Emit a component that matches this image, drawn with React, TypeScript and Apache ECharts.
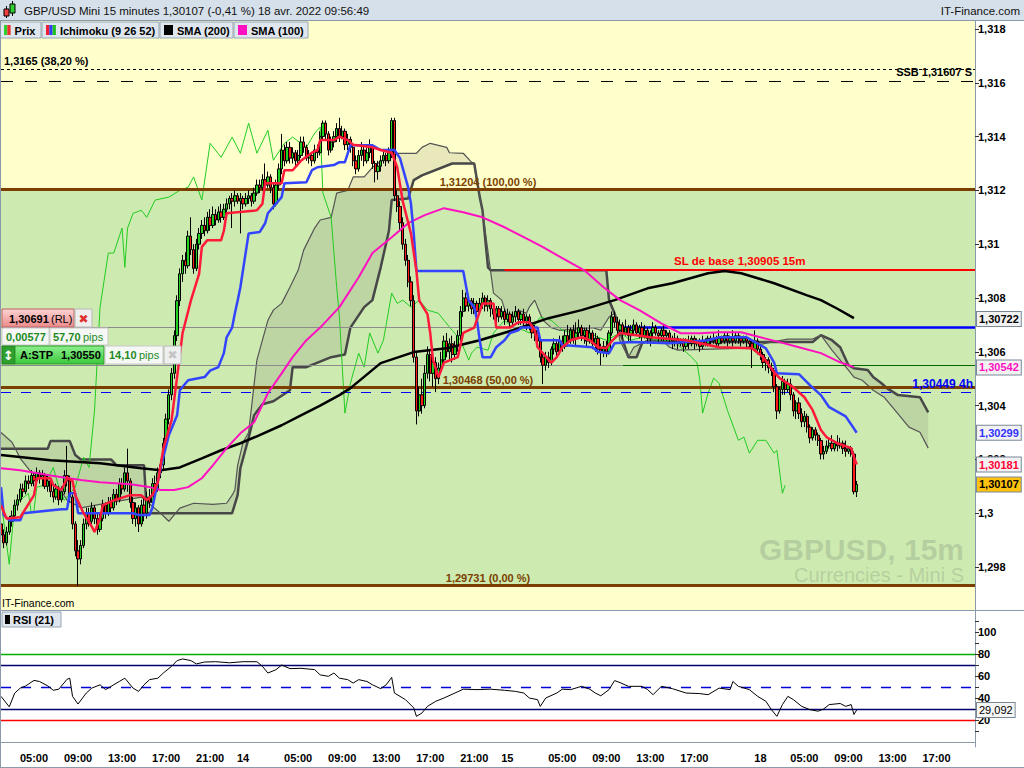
import { useEffect, useRef } from "react";
import * as echarts from "echarts";

const FONT = '"Liberation Sans", Arial, sans-serif';

// ---------- time axis: one slot per 15-minute bar from 13 Apr 02:00 (weekend removed) ----------
const SLOT_COUNT = 355;
const TIME_LABELS: [number, string][] = [
  [12, "05:00"], [28, "09:00"], [44, "13:00"], [60, "17:00"], [76, "21:00"], [88, "14"],
  [108, "05:00"], [124, "09:00"], [140, "13:00"], [156, "17:00"], [172, "21:00"], [184, "15"],
  [204, "05:00"], [220, "09:00"], [236, "13:00"], [252, "17:00"], [276, "18"],
  [292, "05:00"], [308, "09:00"], [324, "13:00"], [340, "17:00"],
];

// ---------- axes ----------
const PRICE_TICKS = [1.298, 1.3, 1.302, 1.304, 1.306, 1.308, 1.31, 1.312, 1.314, 1.316, 1.318];
const RSI_LABEL_VALUES = [20, 40, 60, 80, 100];
const RSI_TICK_VALUES = [10, 20, 30, 40, 50, 60, 70, 80, 90, 100, 110];

// ---------- price levels ----------
const FIB_0 = 1.29731;
const FIB_50 = 1.30468;
const FIB_100 = 1.31204;
const FIB_382 = 1.3165;
const SSB_LEVEL = 1.31607;
const SL_BASE = 1.30905;
const RL_LEVEL = 1.30691;
const STP_LEVEL = 1.3055;
const LEVEL_4H = 1.30449;
const ORDER_LEVEL = 1.30722;
const LAST_PRICE = 1.30107;
const SMA100_LAST = 1.30542;
const KIJUN_LAST = 1.30299;
const TENKAN_LAST = 1.30181;
const RSI_LAST = 29.092;
const SL_START_SLOT = 183;
const ORDER_SPLIT_SLOT = 226;

// ---------- candles: [open, close, low, high] in pips above 1.3000 ----------
const CANDLES: number[][] = [
  [-4,-8,-10,-2],[-8,-11,-13,-6],[-11,-7,-12,-5],[-7,-3,-8,-1],[-3,-1,-5,1],[-1,3,-2,5],[3,5,1,7],[5,9,4,11],[9,8,6,11],[8,12,7,14],
  [12,11,9,14],[11,14,10,16],[14,12,10,15],[12,15,11,17],[15,13,11,16],[13,14,10,16],[14,10,9,15],[10,12,8,14],[12,8,6,13],[8,6,4,10],
  [6,9,5,11],[9,5,3,10],[5,8,4,10],[8,14,7,16],[14,12,10,25],[12,6,4,14],[6,-4,-6,7],[-4,-14,-16,-3],[-14,-17,-27,-10],[-17,-12,-19,-10],
  [-12,-4,-13,-2],[-4,0,-6,2],[0,-3,-5,2],[-3,2,-4,4],[2,-2,-4,3],[-2,-6,-8,0],[-6,-2,-7,0],[-2,3,-3,5],[3,0,-2,4],[0,4,-1,6],
  [4,2,0,6],[2,7,1,9],[7,5,3,9],[5,11,4,13],[11,9,7,13],[9,15,8,17],[15,12,8,24],[12,4,2,13],[4,-2,-4,6],[-2,2,-5,4],
  [2,-4,-7,3],[-4,3,-5,5],[3,0,-3,6],[0,6,-2,8],[6,4,2,9],[4,11,3,13],[11,9,7,14],[9,15,8,17],[15,18,13,20],[18,26,16,28],
  [26,35,24,37],[35,44,33,46],[44,52,42,54],[52,66,50,68],[66,79,64,81],[79,89,77,91],[89,94,86,96],[94,92,89,97],[92,103,91,105],[103,98,96,110],
  [98,91,89,100],[91,100,90,102],[100,104,98,106],[104,107,102,109],[107,105,103,110],[105,110,104,112],[110,107,105,113],[107,111,106,114],[111,109,107,113],[109,112,108,114],
  [112,110,108,115],[110,113,109,115],[113,115,111,117],[115,117,113,118],[117,116,106,119],[116,118,114,120],[118,116,115,119],[116,117,104,119],[117,115,113,118],[115,117,114,119],
  [117,118,115,120],[118,116,114,119],[116,119,115,121],[119,122,118,124],[122,121,119,124],[121,124,120,126],[124,122,120,130],[122,125,121,127],[125,121,119,126],[121,115,113,123],
  [115,122,114,124],[122,128,120,130],[128,135,126,141],[135,131,129,137],[131,136,130,138],[136,132,130,138],[132,134,130,136],[134,131,129,135],[131,133,129,135],[133,138,132,140],
  [138,136,134,140],[136,132,131,137],[132,133,130,135],[133,131,129,134],[131,135,130,137],[135,134,132,137],[134,140,133,142],[140,145,139,146],[145,141,139,146],[141,135,133,142],
  [135,138,134,140],[138,140,136,142],[140,143,138,145],[143,140,138,147],[140,142,139,144],[142,137,135,143],[137,139,135,141],[139,136,134,140],[136,131,129,137],[131,128,126,133],
  [128,133,127,135],[133,135,131,138],[135,131,129,137],[131,134,130,136],[134,136,132,139],[136,130,128,137],[130,127,123,131],[127,129,124,131],[129,131,127,133],[131,133,130,135],
  [133,131,129,134],[131,134,130,136],[134,146,132,147],[146,118,116,147],[118,114,112,120],[114,108,105,116],[108,100,98,110],[100,94,92,102],[94,86,84,96],[86,79,77,88],
  [79,58,56,81],[58,38,33,60],[38,44,36,47],[44,40,37,50],[40,52,39,55],[52,59,50,62],[59,52,49,61],[52,56,47,62],[56,50,45,58],[50,54,48,56],
  [54,57,52,60],[57,64,55,66],[64,60,58,67],[60,63,57,65],[63,59,56,66],[59,62,57,64],[62,66,60,68],[66,75,64,77],[75,80,73,83],[80,77,75,82],
  [77,79,75,81],[79,76,74,80],[76,78,74,80],[78,75,73,79],[75,78,74,80],[78,80,76,82],[80,77,75,81],[77,79,75,81],[79,76,73,80],[76,74,72,78],
  [74,76,70,77],[76,73,71,77],[73,75,72,77],[75,72,70,76],[72,74,71,76],[74,71,69,75],[71,73,70,75],[73,75,71,77],[75,72,70,76],[72,74,70,75],
  [74,71,69,76],[71,73,68,74],[73,70,68,74],[70,67,65,71],[67,68,64,70],[68,64,62,69],[64,58,56,65],[58,55,48,60],[55,58,53,60],[58,56,54,60],
  [56,61,55,62],[61,63,59,65],[63,60,58,64],[60,64,59,66],[64,62,60,66],[62,66,61,68],[66,64,62,70],[64,68,63,69],[68,65,63,70],[65,67,62,71],
  [67,69,65,72],[69,66,64,70],[66,68,63,69],[68,64,62,69],[64,67,63,70],[67,63,61,68],[63,65,60,67],[65,61,59,66],[61,60,55,63],[60,62,58,64],
  [62,60,58,64],[60,67,59,68],[67,73,66,75],[73,71,69,75],[71,68,66,73],[68,70,66,72],[70,67,65,71],[67,69,66,72],[69,66,64,70],[66,68,64,70],
  [68,70,66,72],[70,67,66,71],[67,69,65,70],[69,66,64,71],[66,68,65,70],[68,65,63,69],[65,67,62,68],[67,69,65,71],[69,67,66,70],[67,66,63,68],
  [66,68,64,69],[68,66,64,70],[66,67,64,68],[67,65,63,68],[65,64,61,66],[64,65,62,67],[65,63,61,66],[63,64,62,65],[64,62,60,65],[62,64,61,65],
  [64,63,61,66],[63,65,62,66],[65,63,61,66],[63,64,62,65],[64,62,60,65],[62,64,61,66],[64,63,62,65],[63,65,62,66],[65,64,62,66],[64,65,63,67],
  [65,63,62,66],[63,65,62,68],[65,64,63,66],[64,66,63,67],[66,64,62,67],[64,65,63,66],[65,64,62,68],[64,66,63,67],[66,65,63,67],[65,64,62,66],
  [64,65,63,66],[65,64,61,66],[64,63,61,65],[63,61,54,64],[61,64,60,68],[64,61,59,65],[61,59,57,62],[59,56,54,60],[56,57,53,58],[57,54,52,58],
  [54,53,51,56],[53,47,45,54],[47,38,35,48],[38,46,37,47],[46,49,44,51],[49,46,44,50],[46,48,45,50],[48,44,42,50],[44,38,36,45],[38,41,35,42],
  [41,37,35,43],[37,34,32,39],[34,36,32,38],[36,32,30,37],[32,28,26,33],[28,31,27,32],[31,29,27,32],[29,27,25,30],[27,22,20,28],[22,23,20,25],
  [23,25,22,27],[25,26,24,28],[26,24,23,29],[24,26,23,27],[26,25,23,29],[25,26,24,28],[26,24,22,27],[24,23,21,27],[23,24,22,25],[24,22,21,25],
  [22,8,7,23],[8,10.7,6,12],
];

// ---------- indicators: [slot, pips above 1.3000] ----------
const TENKAN: number[][] = [
  [0,3],[2,-2],[7,-1.5],[12,6.7],[13,13],[18,13],[19,10.4],[22,8.6],[24,13],[26,12],[27,6.7],[30,0],[33,-5],[34,-7],[36,-2],[37,3],
  [41,4.8],[47,6.7],[51,6.7],[53,4.8],[55,6.7],[57,11.5],[59,24],[62,34.6],[64,50.6],[66,67],[69,79],[72,89],[73,99],[75,101.5],
  [80,101.5],[81,105],[82,111.5],[93,112.6],[95,115],[96,122.7],[102,122.7],[103,127.5],[106,127.5],[109,131],[113,134],[115,135],
  [116,138.7],[121,138.7],[123,140],[126,138.7],[128,137],[135,136],[138,135],[142,134],[144,128.6],[146,116],[149,104],[151,90],
  [152,79],[155,74],[156,67],[157,57],[159,50.6],[161,56],[166,58],[168,67],[172,69],[175,78],[179,78],[180,69],[185,69],[188,71],
  [192,71],[194,68],[195,61.7],[200,56],[202,58],[204,61.7],[207,64.3],[211,65.4],[214,64.3],[217,61.7],[220,61.3],[222,64],
  [225,67],[236,65.4],[249,64.3],[261,61.7],[273,61.3],[277,58],[281,52.4],[283,50.2],[288,46.8],[292,43.1],[295,38.3],[298,30.9],
  [300,28.3],[304,26],[309,24.2],[310,20.8],[311,18.1],
];
const KIJUN: number[][] = [
  [0,9.7],[1,-0.7],[3,-2.6],[7,-2.6],[8,0],[22,1.5],[24,1.5],[25,7.4],[27,7.4],[28,0],[48,0],[50,-0.7],[54,-0.7],[55,1.9],[58,16.7],
  [61,29],[64,36.4],[65,45.7],[68,49.4],[74,50.6],[76,53],[79,54.3],[81,59.5],[82,65.4],[84,69],[85,74.3],[86,79],[87,84],[90,104],
  [94,104.5],[96,107.8],[97,111.5],[102,117.5],[103,122.7],[111,123],[113,127.5],[115,128.6],[121,129.4],[123,130.5],[125,130.5],
  [127,136.8],[135,136.8],[138,135],[143,135],[145,132],[148,121],[149,115],[150,104],[151,90],[168,90],[170,79],[172,76.6],[173,71.7],
  [174,64.3],[175,58],[178,58],[180,61.7],[183,64.3],[185,67],[188,68],[189,69],[195,69],[196,64.3],[203,64.3],[204,62.5],[215,61.7],
  [217,60],[221,59.5],[223,63.2],[229,63.6],[243,63.2],[257,64.3],[261,65.4],[271,65.4],[278,61.3],[281,56],[282,52],[290,51.7],
  [294,47.6],[298,43.9],[301,39.4],[307,36],[309,33],[311,29.9],
];
const CHIKOU: number[][] = [
  [0,4.8],[3,-19],[5,3.7],[7,4.8],[10,7.4],[11,0],[12,1.1],[13,9.7],[16,10.4],[18,14.9],[19,17],[21,9.7],[23,4.8],[27,9.7],[29,17],
  [30,20.8],[32,17],[34,38.3],[36,76.6],[39,96.7],[41,96.7],[44,106],[45,91.4],[46,106],[48,111.5],[51,112.6],[53,110],[56,116.4],
  [61,117.5],[65,120],[68,121.2],[70,125],[73,116.4],[76,137.5],[80,132.3],[84,139.8],[87,133.8],[90,145],[93,133.8],[97,142.4],
  [99,131.2],[103,137.5],[106,139.8],[111,136],[114,141.3],[116,143.5],[117,119],[120,110],[122,84],[123,72.9],[125,37.2],[127,48.3],
  [130,59.5],[132,54.3],[134,67],[137,59.5],[139,64.3],[142,81.8],[144,78],[146,79.2],[149,76.6],[152,79.2],[155,75.5],[159,74.3],
  [161,71.7],[164,68],[167,64.3],[170,56.9],[171,59.5],[173,61.7],[177,60.6],[179,67],[183,71.7],[186,69],[190,68],[192,67],[196,72.9],
  [200,71.7],[204,68],[208,67],[212,68],[217,65.4],[220,64.3],[225,67],[229,64.3],[233,65.4],[239,64.3],[244,64.3],[247,61.7],[251,58],
  [253,55.8],[254,49.4],[255,37.2],[257,44.6],[259,50.2],[261,48.3],[264,38.3],[268,27.1],[270,28.3],[272,22.3],[275,27.1],[278,27.1],
  [281,22.3],[282,23.4],[284,7.4],[285,10.4],
];
const SENKOU_A: number[][] = [
  [0,30],[4,26.4],[7,20.4],[11,15.2],[15,13.4],[17,11.5],[21,9.7],[24,4.8],[29,2],[40,4],[51,6],[58,0],[61,-3],[65,1.9],[70,3.7],
  [77,3.3],[82,3.7],[84,6.7],[85,8.6],[86,17.8],[88,26.4],[90,30],[93,56.9],[97,71.7],[99,75.5],[102,78],[105,84],[108,90.3],
  [110,97.8],[114,106],[116,109],[120,110],[122,119],[126,120],[128,125],[132,125],[135,128.6],[142,133.8],[151,133.8],[153,136],
  [156,137.5],[162,136],[163,134],[168,133.8],[171,130.5],[172,130],[173,122.7],[175,112.6],[179,81.8],[182,79.2],[184,72.9],
  [186,72.9],[188,75.5],[191,74.3],[192,76.6],[194,79.2],[195,76.6],[197,71.7],[200,69],[203,68],[215,69],[218,68],[221,72.9],
  [223,74.3],[225,64],[228,58],[230,61.7],[235,64.3],[241,63.6],[243,61.7],[246,60.6],[268,61.3],[271,61.7],[280,63.6],[286,64.7],
  [295,64.7],[298,66.2],[302,60.6],[308,53.2],[310,50.6],[313,49.4],[317,45.7],[321,43.1],[324,39.4],[327,35.7],[330,32],[334,30.1],
  [337,24.2],
];
const SENKOU_B: number[][] = [
  [0,24],[17,24],[18,26.8],[25,26.8],[27,21.6],[29,20],[40,20],[42,17.8],[52,17.8],[53,0],[84,0],[86,6.7],[87,16.7],[90,28],
  [92,36.4],[95,40.5],[99,41.6],[105,45.7],[106,54.3],[111,54.3],[120,58],[125,59],[127,69],[132,76.6],[135,79.2],[138,91.4],
  [141,105],[142,116.4],[148,117],[150,123.8],[153,125.6],[164,130],[172,130],[174,117.5],[175,112.6],[177,91.4],[178,90.3],
  [220,90.3],[221,79.2],[223,74.3],[226,64.3],[228,58],[231,58],[233,63.2],[236,64.3],[249,63.6],[295,63.6],[298,66.2],[302,64.3],
  [305,61.7],[308,55],[310,53.9],[315,53.2],[317,50.6],[320,48.3],[322,46.5],[326,43.9],[334,43.1],[337,37.5],
];
const SMA200: number[][] = [
  [0,21.6],[18,19.7],[36,18.6],[51,16.7],[58,16],[65,17],[73,20.4],[80,23.4],[87,26],[94,29],[102,32.7],[109,36.4],[116,40],
  [123,43.9],[127,46.5],[138,55.8],[150,59.9],[162,61.3],[174,64.3],[186,68],[199,72.5],[211,75.5],[223,79.2],[235,83.6],[244,85.5],
  [257,89.2],[263,90],[269,89.2],[281,85.5],[293,81],[298,79.2],[304,76],[310,72.5],
];
const SMA100: number[][] = [
  [0,16.7],[7,16],[18,14],[29,12.3],[36,11.5],[47,10.8],[54,9.7],[58,8.6],[63,8.6],[68,9.7],[73,13],[77,17.8],[82,24.2],[87,29.7],
  [92,33.8],[97,44.6],[102,52],[106,58],[111,64.3],[116,69],[123,76.6],[130,87.7],[135,96.7],[142,102.6],[148,107.8],[154,110.8],
  [161,113.4],[168,111.9],[175,110],[183,106.3],[190,102.6],[197,98.9],[204,94.8],[212,90.3],[219,84],[225,79.2],[232,75.5],
  [240,70.6],[247,66.9],[254,66.9],[261,67.3],[269,67.3],[276,65.4],[283,63.6],[290,61.7],[298,59.5],[305,56.1],[310,54.3],
];
// RSI(21): [slot, value]
const RSI: number[][] = [
  [0,41.5],[3,32],[5,44.5],[7,49],[9,51],[12,56],[14,55],[17,51],[19,47],[21,48],[24,57],[25,58],[26,41.5],[28,34.5],[31,44.5],
  [33,49],[36,52],[38,47.6],[40,50.6],[43,55],[45,58],[48,49],[50,46],[52,52],[54,56.7],[57,58],[59,62.7],[62,68.8],[64,74],[66,75.5],
  [69,74],[71,71],[74,72.7],[78,73],[83,72],[88,73],[93,73],[95,68.8],[97,62.7],[100,65.8],[102,70],[105,66.7],[109,67],[114,65.8],
  [116,61],[119,59.7],[121,62.7],[123,58],[126,56.7],[128,53.6],[130,56.7],[133,55],[135,52],[138,48.5],[140,52],[142,58.8],
  [143,44.5],[147,38.5],[150,31],[151,23.3],[153,26.4],[155,32.4],[158,37],[161,40],[165,44.5],[168,48],[173,47.6],[178,48],[183,47],
  [187,46],[190,44.5],[192,40],[195,38.5],[196,32.4],[198,40],[202,44.5],[204,48],[207,47.6],[211,50.6],[214,48],[216,44.5],[218,42],
  [221,47.6],[223,55.8],[225,54],[228,50.6],[233,50.6],[235,47.6],[237,43],[240,50.6],[244,48.5],[249,44.5],[254,44],[257,43],
  [261,49],[265,47.6],[266,55],[268,50.6],[272,47.6],[275,41.5],[278,37],[280,29.4],[282,23.3],[284,34],[286,41.5],[288,38.5],
  [291,32.4],[294,29.4],[297,28],[299,30],[301,34],[305,35],[307,32.4],[309,34],[310,25],[311,29.1],
];

// ---------- helpers ----------
const toPrice = (p: number) => +(1.3 + p / 10000).toFixed(6);
const fmt5 = (v: number) => v.toFixed(5).replace(".", ",");
const fmtAxis = (v: number) => String(Number(v.toFixed(3))).replace(".", ",");
const labelMap = new Map<number, string>(TIME_LABELS);
const categories = Array.from({ length: SLOT_COUNT }, (_, i) => labelMap.get(i) ?? "");
const toXY = (pts: number[][]) => pts.map(([s, p]) => [s, toPrice(p)]);

const boldLabel = (color: string, size = 11) => ({
  color, fontWeight: "bold" as const, fontSize: size, fontFamily: FONT,
});

function buildOption() {
  const lineSeries = (name: string, pts: number[][], color: string, width: number, z: number) => ({
    type: "line", name, xAxisIndex: 0, yAxisIndex: 0, data: toXY(pts), showSymbol: false, symbol: "none",
    lineStyle: { color, width }, z, silent: true,
  });

  const valueBox = (value: number, color: string, bg: string) => ({
    yAxis: value,
    lineStyle: { color: "rgba(0,0,0,0)", width: 0 },
    label: {
      show: true, position: "end", distance: 2, formatter: fmt5(value), ...boldLabel(color),
      backgroundColor: bg, borderColor: "#7a8896", borderWidth: 1, padding: [2, 2, 1, 2],
    },
  });

  const brown = "#7b3f00";
  const fibLine = (value: number, text: string) => ({
    yAxis: value,
    lineStyle: { color: brown, width: 3, type: "solid" },
    label: { show: true, position: "insideMiddleTop", distance: 2, formatter: text, ...boldLabel(brown) },
  });

  const btn = (x: number, w: number, icons: string[], text: string) => {
    const children: any[] = [
      { type: "rect", shape: { x, y: 22, width: w, height: 16 }, style: { fill: "#dfe6ee", stroke: "#96a6b6", lineWidth: 1 } },
    ];
    const iw = icons.length === 1 ? 9 : 3.3;
    icons.forEach((c, k) => {
      children.push({ type: "rect", shape: { x: x + 4 + k * iw, y: 25, width: iw, height: 10 }, style: { fill: c } });
    });
    children.push({
      type: "text", x: x + 5 + icons.length * iw + 3, y: 30.5,
      style: { text, fill: "#000", fontWeight: "bold", fontSize: 11, fontFamily: FONT, verticalAlign: "middle" },
    });
    return { type: "group", children, z: 100 };
  };

  // simple widget pieces (flat, no rich text)
  const wBox = (x: number, y: number, w: number, h: number, fill: any, stroke: string) => ({
    type: "rect", z: 100, shape: { x, y, width: w, height: h }, style: { fill, stroke, lineWidth: 1 },
  });
  const wText = (x: number, y: number, text: string, fill: string, bold: boolean, align = "left", family = FONT, size = 11) => ({
    type: "text", z: 101, x, y,
    style: { text, fill, fontSize: size, fontWeight: bold ? "bold" : "normal", fontFamily: family, align, verticalAlign: "middle" },
  });
  const grad = (a: string, b: string) => ({
    type: "linear", x: 0, y: 0, x2: 0, y2: 1, colorStops: [{ offset: 0, color: a }, { offset: 1, color: b }],
  });
  const green = "#1f8a1f";

  const graphics: any[] = [
    // header bar
    { type: "rect", shape: { x: 0, y: 0, width: 1024, height: 21 }, style: { fill: "#d6e0ea" }, z: 100 },
    { type: "line", shape: { x1: 0, y1: 20.5, x2: 1024, y2: 20.5 }, style: { stroke: "#8a9aaa", lineWidth: 1 }, z: 101 },
    { type: "line", shape: { x1: 6.5, y1: 6, x2: 6.5, y2: 18 }, style: { stroke: "#000", lineWidth: 1 }, z: 101 },
    { type: "rect", shape: { x: 4, y: 9, width: 5, height: 7 }, style: { fill: "#f04040", stroke: "#000", lineWidth: 1 }, z: 102 },
    { type: "line", shape: { x1: 12.5, y1: 1, x2: 12.5, y2: 16 }, style: { stroke: "#000", lineWidth: 1 }, z: 101 },
    { type: "rect", shape: { x: 10, y: 4, width: 5, height: 9 }, style: { fill: "#30d030", stroke: "#000", lineWidth: 1 }, z: 102 },
    {
      type: "text", x: 24, y: 11, z: 101,
      style: { text: "GBP/USD Mini 15 minutes 1,30107 (-0,41 %) 18 avr. 2022 09:56:49", fill: "#111", fontSize: 11.5, fontFamily: FONT, verticalAlign: "middle" },
    },
    {
      type: "text", x: 1020, y: 11, z: 101,
      style: { text: "IT-Finance.com", fill: "#111", fontSize: 11.5, fontFamily: FONT, align: "right", verticalAlign: "middle" },
    },
    // legend buttons
    btn(0, 41, ["#30d030", "#f03030"], "Prix"),
    btn(42, 117, ["#f02030", "#3040ff", "#20c020"], "Ichimoku (9 26 52)"),
    btn(160, 73, ["#000000"], "SMA (200)"),
    btn(234, 74, ["#ff10c0"], "SMA (100)"),
    // frame lines
    { type: "line", shape: { x1: 0.5, y1: 21, x2: 0.5, y2: 767 }, style: { stroke: "#8a9aaa", lineWidth: 1 }, z: 100 },
    { type: "line", shape: { x1: 0, y1: 610.5, x2: 1024, y2: 610.5 }, style: { stroke: "#8a9aaa", lineWidth: 1 }, z: 100 },
    { type: "line", shape: { x1: 0, y1: 767.5, x2: 1024, y2: 767.5 }, style: { stroke: "#8a9aaa", lineWidth: 1 }, z: 100 },
    // watermark
    {
      type: "text", x: 964, y: 549, z: 2,
      style: { text: "GBPUSD, 15m", fill: "rgba(110,125,110,0.25)", fontSize: 30, fontWeight: "bold", fontFamily: FONT, align: "right", verticalAlign: "middle" },
    },
    {
      type: "text", x: 964, y: 575, z: 2,
      style: { text: "Currencies - Mini S", fill: "rgba(110,125,110,0.25)", fontSize: 20, fontFamily: FONT, align: "right", verticalAlign: "middle" },
    },
    // source text
    {
      type: "text", x: 2, y: 603, z: 100,
      style: { text: "IT-Finance.com", fill: "#000", fontSize: 10.5, fontFamily: FONT, verticalAlign: "middle" },
    },
    // RSI legend
    wBox(2, 612, 59, 15, "#dfe6ee", "#96a6b6"),
    { type: "rect", z: 101, shape: { x: 5, y: 615, width: 5, height: 9 }, style: { fill: "#000" } },
    wText(13, 619.5, "RSI (21)", "#000", true),
    // order widgets: row 1
    wBox(2, 309, 72, 18, grad("#fcd4d4", "#ec8a8a"), "#c06060"),
    wText(9, 318.5, "1,30691", "#000", true),
    wText(51, 318.5, "(RL)", "#000", false),
    wBox(75, 309, 17, 18, "#efefef", "#b8b8b8"),
    wText(83.5, 318.5, "✖", "#e03030", false, "center", "DejaVu Sans", 12),
    // row 2
    wBox(2, 328, 47, 17, "#f6f8f6", "#c8c8c8"),
    wText(6, 336.5, "0,00577", green, true),
    wBox(50, 328, 58, 17, "#f6f8f6", "#c8c8c8"),
    wText(53, 336.5, "57,70", green, true),
    wText(83, 336.5, "pips", green, false),
    // row 3
    wBox(2, 346, 13, 18, "#2f9f2f", "#1a7a1a"),
    wText(8.5, 355, "↕", "#ffffff", true, "center", "DejaVu Sans", 13),
    wBox(15, 346, 89, 18, grad("#8cef8c", "#3cc83c"), "#2a9a2a"),
    wText(20, 355, "A:STP", "#000", true),
    wText(61, 355, "1,30550", "#000", true),
    wBox(105, 346, 58, 18, "#f6f8f6", "#c8c8c8"),
    wText(109, 355, "14,10", green, true),
    wText(139, 355, "pips", green, false),
    wBox(164, 346, 17, 18, "#efefef", "#b8b8b8"),
    wText(172.5, 355, "✖", "#c4c4c4", false, "center", "DejaVu Sans", 12),
  ];

  return {
    animation: false,
    backgroundColor: "#ffffff",
    textStyle: { fontFamily: FONT },
    grid: [
      { left: 1, top: 21, width: 974, height: 589, show: true, backgroundColor: "#ffffcc", borderWidth: 0 },
      { left: 1, top: 611, width: 974, height: 136, show: true, backgroundColor: "#ffffff", borderWidth: 0 },
    ],
    xAxis: [
      {
        type: "category", gridIndex: 0, data: categories, boundaryGap: false,
        axisLine: { show: false }, axisTick: { show: false }, axisLabel: { show: false }, splitLine: { show: false },
      },
      {
        type: "category", gridIndex: 1, data: categories, boundaryGap: false,
        axisLine: { show: true, lineStyle: { color: "#8a9aaa" } }, axisTick: { show: false },
        axisLabel: { interval: (i: number) => labelMap.has(i), margin: 5, ...boldLabel("#000") },
        splitLine: { show: false },
      },
    ],
    yAxis: [
      {
        type: "value", gridIndex: 0, position: "right", min: 1.2964015, max: 1.3182974,
        splitLine: { show: false },
        axisLine: { show: true, onZero: false, lineStyle: { color: "#8a9aaa" } },
        axisTick: { show: true, length: 4, customValues: PRICE_TICKS, lineStyle: { color: "#333" } },
        axisLabel: { customValues: PRICE_TICKS, formatter: fmtAxis, margin: 3, ...boldLabel("#000") },
      },
      {
        type: "value", gridIndex: 1, position: "right", min: -4.55, max: 119.09,
        splitLine: { show: false },
        axisLine: { show: true, onZero: false, lineStyle: { color: "#8a9aaa" } },
        axisTick: { show: true, length: 4, customValues: RSI_TICK_VALUES, lineStyle: { color: "#333" } },
        axisLabel: { customValues: RSI_LABEL_VALUES, margin: 3, ...boldLabel("#000") },
      },
    ],
    graphic: graphics,
    series: [
      {
        type: "line", name: "zones", xAxisIndex: 0, yAxisIndex: 0, data: [], z: 1, silent: true,
        markArea: { silent: true, precision: 5, itemStyle: { color: "#cdeab0" }, data: [[{ yAxis: FIB_0 }, { yAxis: FIB_100 }]] },
      },
      {
        type: "custom", name: "cloud", xAxisIndex: 0, yAxisIndex: 0, z: 3, silent: true, data: [[0, 1.3]],
        renderItem: (_params: any, api: any) => {
          const a = SENKOU_A.map(([s, p]) => api.coord([s, toPrice(p)]));
          const b = SENKOU_B.slice().reverse().map(([s, p]) => api.coord([s, toPrice(p)]));
          return { type: "polygon", shape: { points: a.concat(b) }, style: { fill: "rgba(80,80,70,0.13)" } };
        },
      },
      lineSeries("Senkou B", SENKOU_B, "#474747", 2.5, 4),
      lineSeries("Senkou A", SENKOU_A, "#555555", 1.2, 4),
      lineSeries("Chikou", CHIKOU, "#22cc22", 1, 4),
      {
        type: "candlestick", name: "Prix", xAxisIndex: 0, yAxisIndex: 0, z: 5, silent: true,
        data: CANDLES.map((c) => c.map(toPrice)), barWidth: 2.8,
        itemStyle: { color: "#22d022", color0: "#ff1a1a", borderColor: "#000", borderColor0: "#000", borderWidth: 1 },
      },
      lineSeries("SMA 200", SMA200, "#000000", 2.5, 6),
      lineSeries("SMA 100", SMA100, "#ff10c0", 2, 6),
      lineSeries("Kijun", KIJUN, "#3344ff", 2.5, 6),
      lineSeries("Tenkan", TENKAN, "#ff1a3c", 2.5, 6),
      {
        type: "line", name: "levels", xAxisIndex: 0, yAxisIndex: 0, data: [], z: 7, silent: true,
        markLine: {
          silent: true, symbol: ["none", "none"], animation: false, precision: 5,
          data: [
            {
              yAxis: FIB_382, lineStyle: { color: "#000", width: 1, type: [3, 3] },
              label: { show: true, position: "insideStartTop", distance: 3, formatter: `${String(FIB_382).replace(".", ",")} (38,20 %)`, ...boldLabel("#000") },
            },
            {
              yAxis: SSB_LEVEL, lineStyle: { color: "#000", width: 1, type: [12, 12] },
              label: { show: true, position: "insideEndTop", distance: 3, formatter: `SSB ${fmt5(SSB_LEVEL)} S`, ...boldLabel("#000") },
            },
            fibLine(FIB_100, `${fmt5(FIB_100)} (100,00 %)`),
            fibLine(FIB_50, `${fmt5(FIB_50)} (50,00 %)`),
            fibLine(FIB_0, `${fmt5(FIB_0)} (0,00 %)`),
            [
              {
                coord: [SL_START_SLOT, SL_BASE], lineStyle: { color: "#ff0000", width: 2, type: "solid" },
                label: { show: true, position: "insideMiddleTop", distance: 3, formatter: `SL de base ${fmt5(SL_BASE)} 15m`, ...boldLabel("#ff0000", 11.5) },
              },
              { coord: [SLOT_COUNT - 1, SL_BASE] },
            ],
            [
              { coord: [0, RL_LEVEL], lineStyle: { color: "#8c8c8c", width: 1, type: "solid" }, label: { show: false } },
              { coord: [ORDER_SPLIT_SLOT, RL_LEVEL] },
            ],
            [
              { coord: [ORDER_SPLIT_SLOT, RL_LEVEL], lineStyle: { color: "#0000ff", width: 2.5, type: "solid" }, label: { show: false } },
              { coord: [SLOT_COUNT - 1, RL_LEVEL] },
            ],
            [
              { coord: [0, STP_LEVEL], lineStyle: { color: "#8c8c8c", width: 1, type: "solid" }, label: { show: false } },
              { coord: [ORDER_SPLIT_SLOT, STP_LEVEL] },
            ],
            [
              { coord: [ORDER_SPLIT_SLOT, STP_LEVEL], lineStyle: { color: "#006600", width: 1, type: "solid" }, label: { show: false } },
              { coord: [SLOT_COUNT - 1, STP_LEVEL] },
            ],
            {
              yAxis: LEVEL_4H, lineStyle: { color: "#0000ff", width: 1.2, type: [10, 10] },
              label: { show: true, position: "insideEndTop", distance: 2, formatter: `${fmt5(LEVEL_4H)} 4h`, ...boldLabel("#0000ff", 12) },
            },
          ],
        },
      },
      {
        type: "line", name: "last values", xAxisIndex: 0, yAxisIndex: 0, data: [], z: 8, silent: true,
        markLine: {
          silent: true, symbol: ["none", "none"], animation: false, precision: 5,
          data: [
            valueBox(ORDER_LEVEL, "#000", "#f2f2f2"),
            valueBox(SMA100_LAST, "#ff10c0", "#f2f2f2"),
            valueBox(KIJUN_LAST, "#3333ff", "#f2f2f2"),
            valueBox(TENKAN_LAST, "#ff0033", "#f2f2f2"),
            valueBox(LAST_PRICE, "#000", "#ffc20e"),
          ],
        },
      },
      {
        type: "line", name: "RSI (21)", xAxisIndex: 1, yAxisIndex: 1, data: RSI, showSymbol: false, symbol: "none",
        lineStyle: { color: "#000", width: 1 }, z: 5, silent: true,
        markLine: {
          silent: true, symbol: ["none", "none"], animation: false, precision: 3, label: { show: false },
          data: [
            { yAxis: 80, lineStyle: { color: "#00b000", width: 1.3, type: "solid" } },
            { yAxis: 70, lineStyle: { color: "#000070", width: 1.3, type: "solid" } },
            { yAxis: 50, lineStyle: { color: "#0000dd", width: 1.3, type: [10, 10] } },
            { yAxis: 30, lineStyle: { color: "#000070", width: 1.3, type: "solid" } },
            { yAxis: 20, lineStyle: { color: "#ff0000", width: 1.3, type: "solid" } },
            {
              yAxis: RSI_LAST, lineStyle: { color: "rgba(0,0,0,0)", width: 0 },
              label: {
                show: true, position: "end", distance: 2, formatter: RSI_LAST.toFixed(3).replace(".", ","),
                color: "#000", fontSize: 11, fontFamily: FONT, backgroundColor: "#f6f6f6",
                borderColor: "#7a8896", borderWidth: 1, padding: [2, 2, 1, 2],
              },
            },
          ],
        },
      },
    ],
  };
}

export default function App() {
  const ref = useRef<HTMLDivElement>(null);
  useEffect(() => {
    document.body.style.margin = "0";
    if (!ref.current) return;
    const chart = echarts.init(ref.current, null, { renderer: "svg" });
    chart.setOption(buildOption() as any);
    return () => chart.dispose();
  }, []);
  return (
    <div
      ref={ref}
      style={{ position: "absolute", left: 0, top: 0, width: 1024, height: 768, background: "#fff" }}
    />
  );
}
